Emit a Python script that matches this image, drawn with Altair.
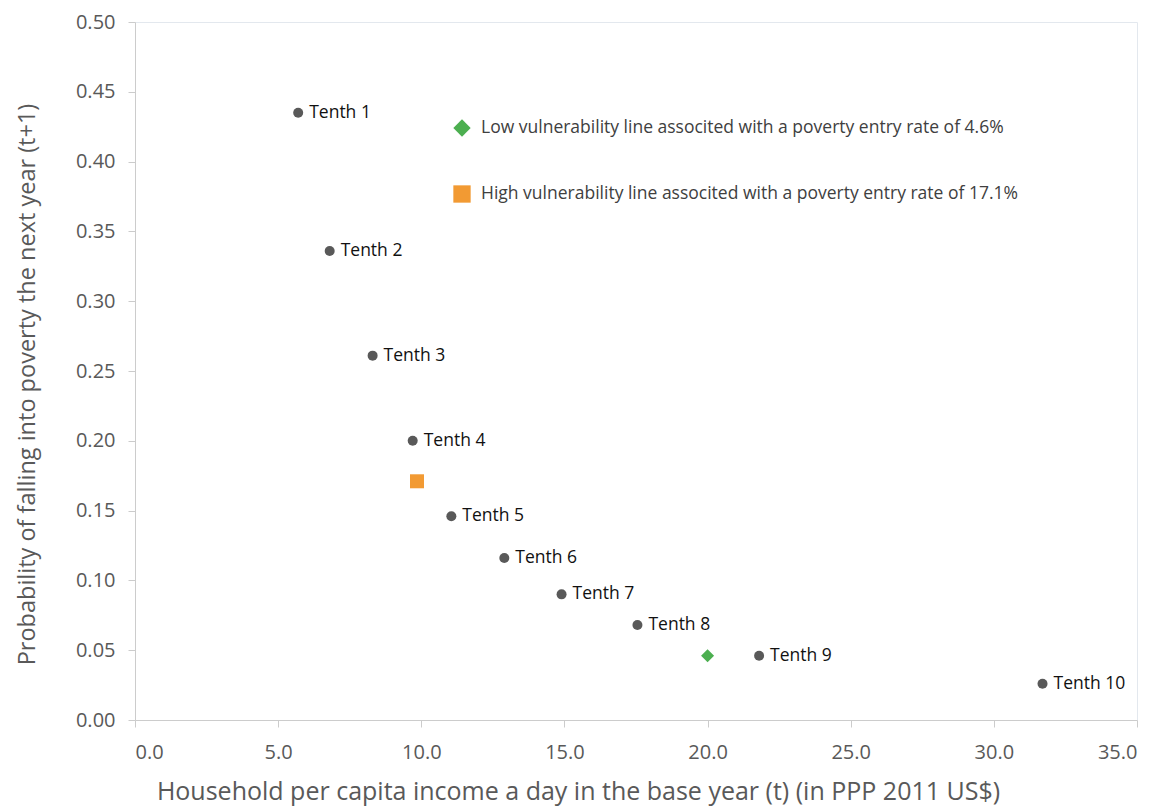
import altair as alt
import pandas as pd

# Data
tenth_labels = ["Tenth 1", "Tenth 2", "Tenth 3", "Tenth 4", "Tenth 5",
                "Tenth 6", "Tenth 7", "Tenth 8", "Tenth 9", "Tenth 10"]
tenth_income = [5.7, 6.8, 8.3, 9.7, 11.05, 12.9, 14.9, 17.55, 21.8, 31.7]
tenth_prob = [0.435, 0.336, 0.261, 0.200, 0.146, 0.116, 0.090, 0.068, 0.046, 0.026]

line_names = ["Low vulnerability line associted with a poverty entry rate of 4.6%",
              "High vulnerability line associted with a poverty entry rate of 17.1%"]
line_income = [20.0, 9.85]
line_prob = [0.046, 0.171]
line_colors = ["#4CAF50", "#F29A33"]
line_shapes = ["diamond", "square"]

x_ticks = [0, 5, 10, 15, 20, 25, 30, 35]
y_ticks = [0, 0.05, 0.1, 0.15, 0.2, 0.25, 0.3, 0.35, 0.4, 0.45, 0.5]

tenths = pd.DataFrame({"label": tenth_labels, "income": tenth_income, "prob": tenth_prob})
lines = pd.DataFrame({"name": line_names, "income": line_income, "prob": line_prob})

FONT = "Open Sans"

x_enc = alt.X("income:Q",
              scale=alt.Scale(domain=[0, 35], nice=False),
              axis=alt.Axis(values=x_ticks, format=".1f",
                            title="Household per capita income a day in the base year (t)  (in PPP 2011 US$)",
                            grid=False, domainColor="#cccccc", tickColor="#cccccc",
                            tickSize=7, labelPadding=15, labelFontSize=20,
                            labelColor="#595959", titleFontSize=25, titleColor="#595959",
                            titleFontWeight="normal", titlePadding=17, labelFont=FONT,
                            titleFont=FONT, titleX=443, titleAlign="center"))
y_enc = alt.Y("prob:Q",
              scale=alt.Scale(domain=[0, 0.5], nice=False),
              axis=alt.Axis(values=y_ticks, format=".2f",
                            title="Probability of falling  into poverty the next year (t+1)",
                            grid=False, domainColor="#cccccc", tickColor="#cccccc",
                            tickSize=7, labelPadding=13, labelFontSize=20,
                            labelColor="#595959", titleFontSize=23.5, titleColor="#595959",
                            titleFontWeight="normal", titlePadding=36, labelFont=FONT,
                            titleFont=FONT, titleY=362, titleAlign="center"))

points = alt.Chart(tenths).mark_circle(size=100, color="#595959", opacity=1).encode(
    x=x_enc, y=y_enc)

labels = alt.Chart(tenths).mark_text(align="left", baseline="middle", dx=11,
                                     fontSize=17.5, font=FONT, color="#111111").encode(
    x="income:Q", y="prob:Q", text="label:N")

leg = alt.Legend(title=None, orient="none", legendX=318, legendY=97,
                 symbolSize=300, labelFontSize=17.5, labelFont=FONT,
                 labelColor="#404040", rowPadding=48,
                 labelOffset=10, labelLimit=0, symbolStrokeWidth=0)

color_enc = alt.Color("name:N", scale=alt.Scale(domain=line_names, range=line_colors),
                      legend=leg)
shape_enc = alt.Shape("name:N", scale=alt.Scale(domain=line_names, range=line_shapes),
                      legend=leg)

low_marker = alt.Chart(lines).transform_filter(
    alt.datum.name == line_names[0]
).mark_point(filled=True, opacity=1, size=169).encode(
    x="income:Q", y="prob:Q", color=color_enc, shape=shape_enc)

high_marker = alt.Chart(lines).transform_filter(
    alt.datum.name == line_names[1]
).mark_point(filled=True, opacity=1, size=196).encode(
    x="income:Q", y="prob:Q", color=color_enc, shape=shape_enc)

chart = alt.layer(points, labels, low_marker, high_marker).properties(
    width=1002, height=698,
    padding={"left": 127, "top": 14, "right": 17, "bottom": 87},
    autosize=alt.AutoSizeParams(type="none"),
    background="white",
).configure_view(stroke="#e3e8ee", strokeWidth=1)

chart.save("out.html", embed_options={"renderer": "svg", "actions": False})
